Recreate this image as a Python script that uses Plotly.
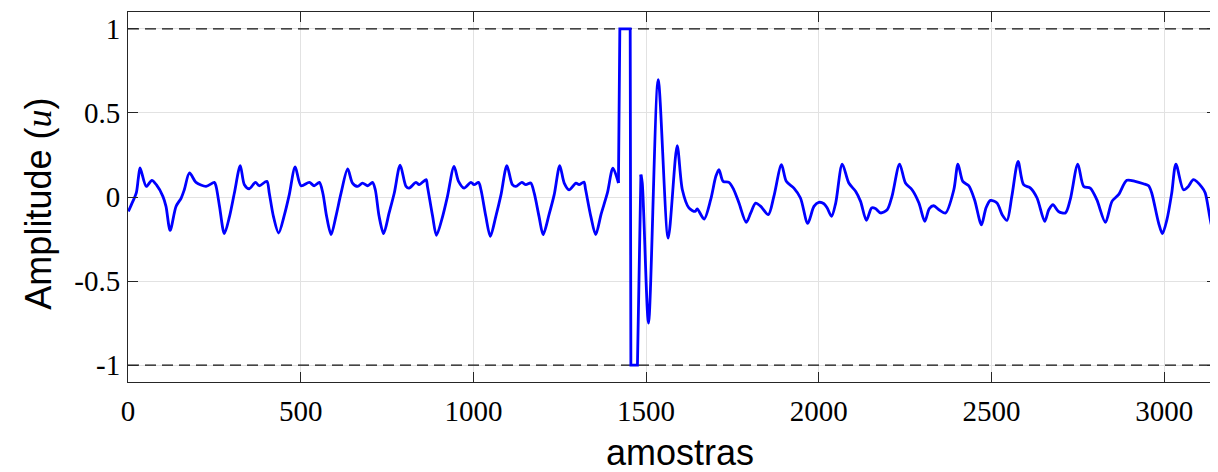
import plotly.graph_objects as go

# ---- data (sample index, amplitude) ----
samples = [1, 14, 24, 30, 35, 53, 69, 82, 101, 110, 122, 139, 154, 163, 178, 197, 226, 250, 255, 265,
           279, 294, 308, 325, 337, 351, 369, 380, 402, 409, 421, 436, 453, 467, 484, 501, 525, 539, 554, 564,
           575, 588, 602, 617, 636, 650, 665, 679, 694, 708, 716, 727, 740, 756, 771, 788, 805, 814, 834, 843,
           863, 867, 882, 893, 911, 925, 944, 957, 973, 993, 1002, 1015, 1022, 1036, 1049, 1065, 1080, 1097, 1113, 1123,
           1140, 1152, 1166, 1176, 1190, 1202, 1219, 1234, 1250, 1263, 1277, 1297, 1306, 1320, 1325, 1340, 1354, 1370, 1388, 1404,
           1420, 1424, 1454, 1456, 1475, 1485, 1489, 1507, 1535, 1564, 1590, 1605, 1624, 1642, 1648, 1668, 1687, 1702, 1711, 1723,
           1740, 1754, 1769, 1790, 1803, 1817, 1832, 1854, 1870, 1892, 1906, 1928, 1947, 1968, 1986, 2000, 2015, 2024, 2037, 2049,
           2068, 2087, 2107, 2121, 2138, 2153, 2164, 2179, 2198, 2212, 2234, 2251, 2270, 2290, 2307, 2320, 2333, 2348, 2367, 2391,
           2403, 2417, 2434, 2451, 2471, 2484, 2497, 2516, 2531, 2545, 2559, 2577, 2593, 2613, 2632, 2654, 2666, 2678, 2694, 2714,
           2728, 2750, 2767, 2786, 2805, 2830, 2849, 2868, 2892, 2916, 2940, 2955, 2964, 2984, 2995, 3008, 3022, 3034, 3056, 3070,
           3085, 3109, 3119, 3138, 3148, 3153]
amplitude = [-0.086, -0.026, 0.024, 0.113, 0.173, 0.063, 0.099, 0.073, 0.004, -0.056, -0.199, -0.056, -0.006, 0.043, 0.143, 0.087, 0.063, 0.087, 0.063, -0.056,
             -0.218, -0.115, 0.024, 0.186, 0.073, 0.049, 0.087, 0.067, 0.093, 0.024, -0.115, -0.214, -0.105, 0.014, 0.179, 0.067, 0.087, 0.067, 0.087, 0.024,
             -0.115, -0.224, -0.115, 0.024, 0.167, 0.083, 0.063, 0.083, 0.067, 0.087, 0.043, -0.115, -0.218, -0.095, 0.024, 0.190, 0.063, 0.053, 0.087, 0.073,
             0.103, 0.063, -0.115, -0.228, -0.115, 0.004, 0.182, 0.093, 0.053, 0.087, 0.073, 0.087, 0.043, -0.115, -0.234, -0.115, 0.014, 0.186, 0.073, 0.063,
             0.087, 0.073, 0.083, 0.024, -0.115, -0.224, -0.105, 0.014, 0.186, 0.083, 0.043, 0.083, 0.073, 0.089, 0.043, -0.115, -0.224, -0.100, 0.024, 0.172,
             0.083, 1.0, 1.0, -1.0, -1.0, 0.133, 0.083, -0.750, 0.698, -0.244, 0.305, 0.043, -0.065, -0.086, -0.071, -0.131, -0.016, 0.123, 0.163, 0.093,
             0.087, 0.043, -0.036, -0.151, -0.095, -0.036, -0.056, -0.105, 0.004, 0.192, 0.093, 0.053, -0.006, -0.157, -0.056, -0.032, -0.040, -0.064, -0.115, -0.036,
             0.196, 0.083, 0.033, -0.026, -0.139, -0.065, -0.069, -0.095, -0.076, 0.004, 0.196, 0.083, 0.043, -0.036, -0.145, -0.069, -0.052, -0.076, -0.095, 0.043,
             0.196, 0.093, 0.067, -0.016, -0.165, -0.066, -0.020, -0.036, -0.105, -0.139, 0.004, 0.212, 0.073, 0.053, -0.006, -0.145, -0.076, -0.046, -0.086, -0.095,
             -0.016, 0.196, 0.063, 0.053, -0.016, -0.151, -0.026, 0.014, 0.099, 0.093, 0.079, 0.067, 0.024, -0.155, -0.218, -0.135, 0.024, 0.196, 0.043, 0.063,
             0.103, 0.059, 0.024, -0.175, -0.210, -0.206]

limits = [1, -1]
x_range = [0, 3153]
y_range = [-1.1, 1.1]
x_ticks = [0, 500, 1000, 1500, 2000, 2500, 3000]
y_ticks = [-1, -0.5, 0, 0.5, 1]
y_ticktext = ["-1", "-0.5", "0", "0.5", "1"]

fig = go.Figure()

for lim in limits:
    fig.add_trace(go.Scatter(x=x_range, y=[lim, lim], mode="lines",
                             line=dict(color="#111111", width=1.3, dash="11px,6px"),
                             hoverinfo="skip", showlegend=False))

# split the signal: smooth parts drawn as splines, saturated part as straight steps
sat = [i for i, v in enumerate(amplitude) if abs(v) >= 1]
i0, i1 = sat[0] - 1, sat[-1] + 1
line_style = dict(color="#0000ff", width=2.8)
fig.add_trace(go.Scatter(x=samples[:i0 + 1], y=amplitude[:i0 + 1], mode="lines",
                         line=dict(shape="spline", smoothing=0.8, **line_style), showlegend=False))
fig.add_trace(go.Scatter(x=samples[i0:i1 + 1], y=amplitude[i0:i1 + 1], mode="lines",
                         line=dict(shape="linear", **line_style), showlegend=False))
fig.add_trace(go.Scatter(x=samples[i1:], y=amplitude[i1:], mode="lines",
                         line=dict(shape="spline", smoothing=0.8, **line_style), showlegend=False))

axis_common = dict(showline=True, linecolor="#262626", linewidth=1, mirror="ticks",
                   ticks="inside", ticklen=10, tickcolor="#262626", tickwidth=1,
                   showgrid=True, gridcolor="#e2e2e2", gridwidth=1, zeroline=False,
                   tickfont=dict(family="Liberation Serif", size=29, color="black"))

fig.update_xaxes(range=x_range, tickvals=x_ticks, ticklabelstandoff=3, **axis_common)
fig.update_yaxes(range=y_range, tickvals=y_ticks, ticktext=y_ticktext, ticklabelstandoff=1, **axis_common)

fig.update_layout(
    width=1210, height=464,
    margin=dict(l=120, r=1, t=4, b=90),
    plot_bgcolor="white", paper_bgcolor="white",
    annotations=[
        dict(text="amostras", xref="paper", yref="paper", x=0.507, y=-0.19,
             xanchor="center", yanchor="middle", showarrow=False,
             font=dict(family="Liberation Sans", size=36, color="black")),
        dict(text="Amplitude (<i><span style='font-family:Liberation Serif'>u</span></i>)",
             xref="paper", yref="paper", x=-0.083, y=0.481, textangle=-90,
             xanchor="center", yanchor="middle", showarrow=False,
             font=dict(family="Liberation Sans", size=36, color="black")),
    ],
)

fig.write_html("out.html")
